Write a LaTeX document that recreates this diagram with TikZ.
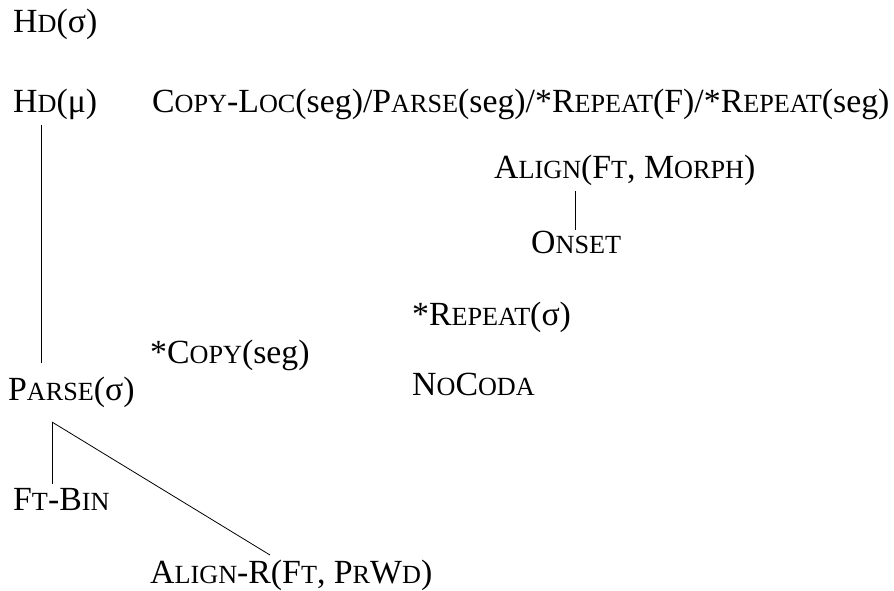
\documentclass[tikz,border=0pt]{standalone}
\usepackage{fontspec}
\setmainfont{Liberation Serif}
\usetikzlibrary{calc}

% fake small caps: capitals set smaller
\newcommand{\sk}[1]{{\fontsize{26.2}{26.2}\selectfont #1}}

\tikzset{
  con/.style={anchor=base west,inner sep=0pt,font=\fontsize{33.8}{33.8}\selectfont},
  tie/.style={line width=0.8pt}
}

\begin{document}
\begin{tikzpicture}[x=1pt,y=-1pt]
\useasboundingbox (0,0) rectangle (894,590);

\node [con] (hdsigma)  at ( 13, 32) {H\sk{D}(σ)};
\node [con] (hdmu)     at ( 13,112) {H\sk{D}(μ)};
\node [con] (copyloc)  at (152,112)
    {C\sk{OPY}-L\sk{OC}(seg)/P\sk{ARSE}(seg)/*R\sk{EPEAT}(F)/*R\sk{EPEAT}(seg)};
\node [con] (alignft)  at (494,178) {A\sk{LIGN}(F\sk{T}, M\sk{ORPH})};
\node [con] (onset)    at (531,253) {O\sk{NSET}};
\node [con] (repeat)   at (412,325) {*R\sk{EPEAT}(σ)};
\node [con] (copyseg)  at (150,363) {*C\sk{OPY}(seg)};
\node [con] (parse)    at (  8,400) {P\sk{ARSE}(σ)};
\node [con] (nocoda)   at (412,395) {N\sk{O}C\sk{ODA}};
\node [con] (ftbin)    at ( 13,510) {F\sk{T}-B\sk{IN}};
\node [con] (alignr)   at (150,583) {A\sk{LIGN}-R(F\sk{T}, P\sk{R}W\sk{D})};

\coordinate (apex) at ($(parse.base west)+(44,22)$);

\draw [tie] ($(hdmu.base west)+(28,13)$) -- ($(parse.base west)+(33,-37)$);
\draw [tie] ($(alignft.base west)+(81,13)$) -- ($(onset.base west)+(44,-23)$);
\draw [tie] (apex) -- ($(ftbin.base west)+(39,-26)$);
\draw [tie] (apex) -- ($(alignr.base west)+(120,-28)$);
\end{tikzpicture}
\end{document}
